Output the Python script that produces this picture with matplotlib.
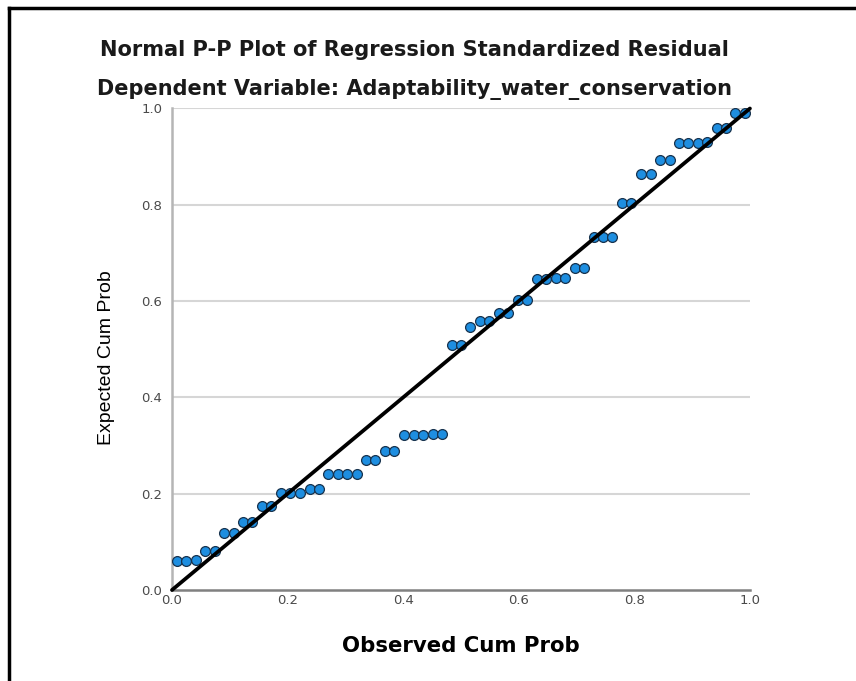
import matplotlib
matplotlib.use('Agg')
import matplotlib.pyplot as plt
from matplotlib.lines import Line2D

# --- data ---
observed_cum_prob = [
    0.008, 0.025, 0.041, 0.057, 0.074, 0.090, 0.107, 0.123, 0.139, 0.156,
    0.172, 0.189, 0.205, 0.221, 0.238, 0.254, 0.270, 0.287, 0.303, 0.320,
    0.336, 0.352, 0.369, 0.385, 0.402, 0.418, 0.434, 0.451, 0.467, 0.484,
    0.500, 0.516, 0.533, 0.549, 0.566, 0.582, 0.598, 0.615, 0.631, 0.648,
    0.664, 0.680, 0.697, 0.713, 0.730, 0.746, 0.762, 0.779, 0.795, 0.811,
    0.828, 0.844, 0.861, 0.877, 0.893, 0.910, 0.926, 0.943, 0.959, 0.975,
    0.992,
]
expected_cum_prob = [
    0.060, 0.060, 0.062, 0.080, 0.080, 0.118, 0.118, 0.142, 0.142, 0.175,
    0.175, 0.202, 0.202, 0.202, 0.209, 0.209, 0.240, 0.240, 0.240, 0.240,
    0.271, 0.271, 0.289, 0.289, 0.322, 0.322, 0.322, 0.325, 0.325, 0.509,
    0.509, 0.547, 0.559, 0.559, 0.575, 0.575, 0.602, 0.602, 0.645, 0.645,
    0.649, 0.649, 0.668, 0.668, 0.734, 0.734, 0.734, 0.803, 0.803, 0.864,
    0.864, 0.893, 0.893, 0.928, 0.928, 0.928, 0.930, 0.959, 0.959, 0.990,
    0.990,
]
tick_values = [0.0, 0.2, 0.4, 0.6, 0.8, 1.0]
tick_labels = ['0.0', '0.2', '0.4', '0.6', '0.8', '1.0']

TITLE_1 = 'Normal P-P Plot of Regression Standardized Residual'
TITLE_2 = 'Dependent Variable: Adaptability_water_conservation'
XLABEL = 'Observed Cum Prob'
YLABEL = 'Expected Cum Prob'

plt.rcParams['font.family'] = ['DejaVu Sans']

fig = plt.figure(figsize=(8.56, 6.81), dpi=100)
ax = fig.add_axes([0.2009, 0.1336, 0.6752, 0.7071])

# horizontal grid
for v in tick_values[1:]:
    ax.axhline(v, color='#d6d6d6', lw=1.5, zorder=0)

ax.scatter(observed_cum_prob, expected_cum_prob, s=50, c='#1e8ee0',
           edgecolors='#17324d', linewidths=0.9, zorder=3)
ax.plot([0, 1], [0, 1], color='black', lw=2.7, zorder=4,
        solid_capstyle='round', clip_on=False)

ax.set_xlim(0, 1)
ax.set_ylim(0, 1)
ax.set_xticks(tick_values)
ax.set_xticklabels(tick_labels)
ax.set_yticks(tick_values)
ax.set_yticklabels(tick_labels)
ax.tick_params(axis='both', length=0, labelsize=9.5, labelcolor='#4a4a4a')
ax.tick_params(axis='y', pad=7)
ax.tick_params(axis='x', pad=3)

for side in ['top', 'right']:
    ax.spines[side].set_visible(False)
ax.spines['left'].set_color('#b5b5b5')
ax.spines['left'].set_linewidth(1.8)
ax.spines['bottom'].set_color('#808080')
ax.spines['bottom'].set_linewidth(1.8)

ax.set_xlabel(XLABEL, fontsize=15.3, fontweight='bold', labelpad=21)
ax.set_ylabel(YLABEL, fontsize=14, family='Liberation Sans')
ax.yaxis.set_label_coords(-0.099, 0.482)

fig.text(0.4842, 0.9266, TITLE_1, ha='center', va='center',
         fontsize=15.1, fontweight='bold', color='#1a1a1a')
fig.text(0.4842, 0.8693, TITLE_2, ha='center', va='center',
         fontsize=15, fontweight='bold', color='#1a1a1a')

# outer frame: only top and left edges show in the reference
fig.add_artist(Line2D([0.0105, 1.0], [0.9883, 0.9883], color='black', lw=2.5,
                      transform=fig.transFigure))
fig.add_artist(Line2D([0.0105, 0.0105], [0.0, 0.9883], color='black', lw=2.5,
                      transform=fig.transFigure))

fig.savefig('out.png', dpi=100)
